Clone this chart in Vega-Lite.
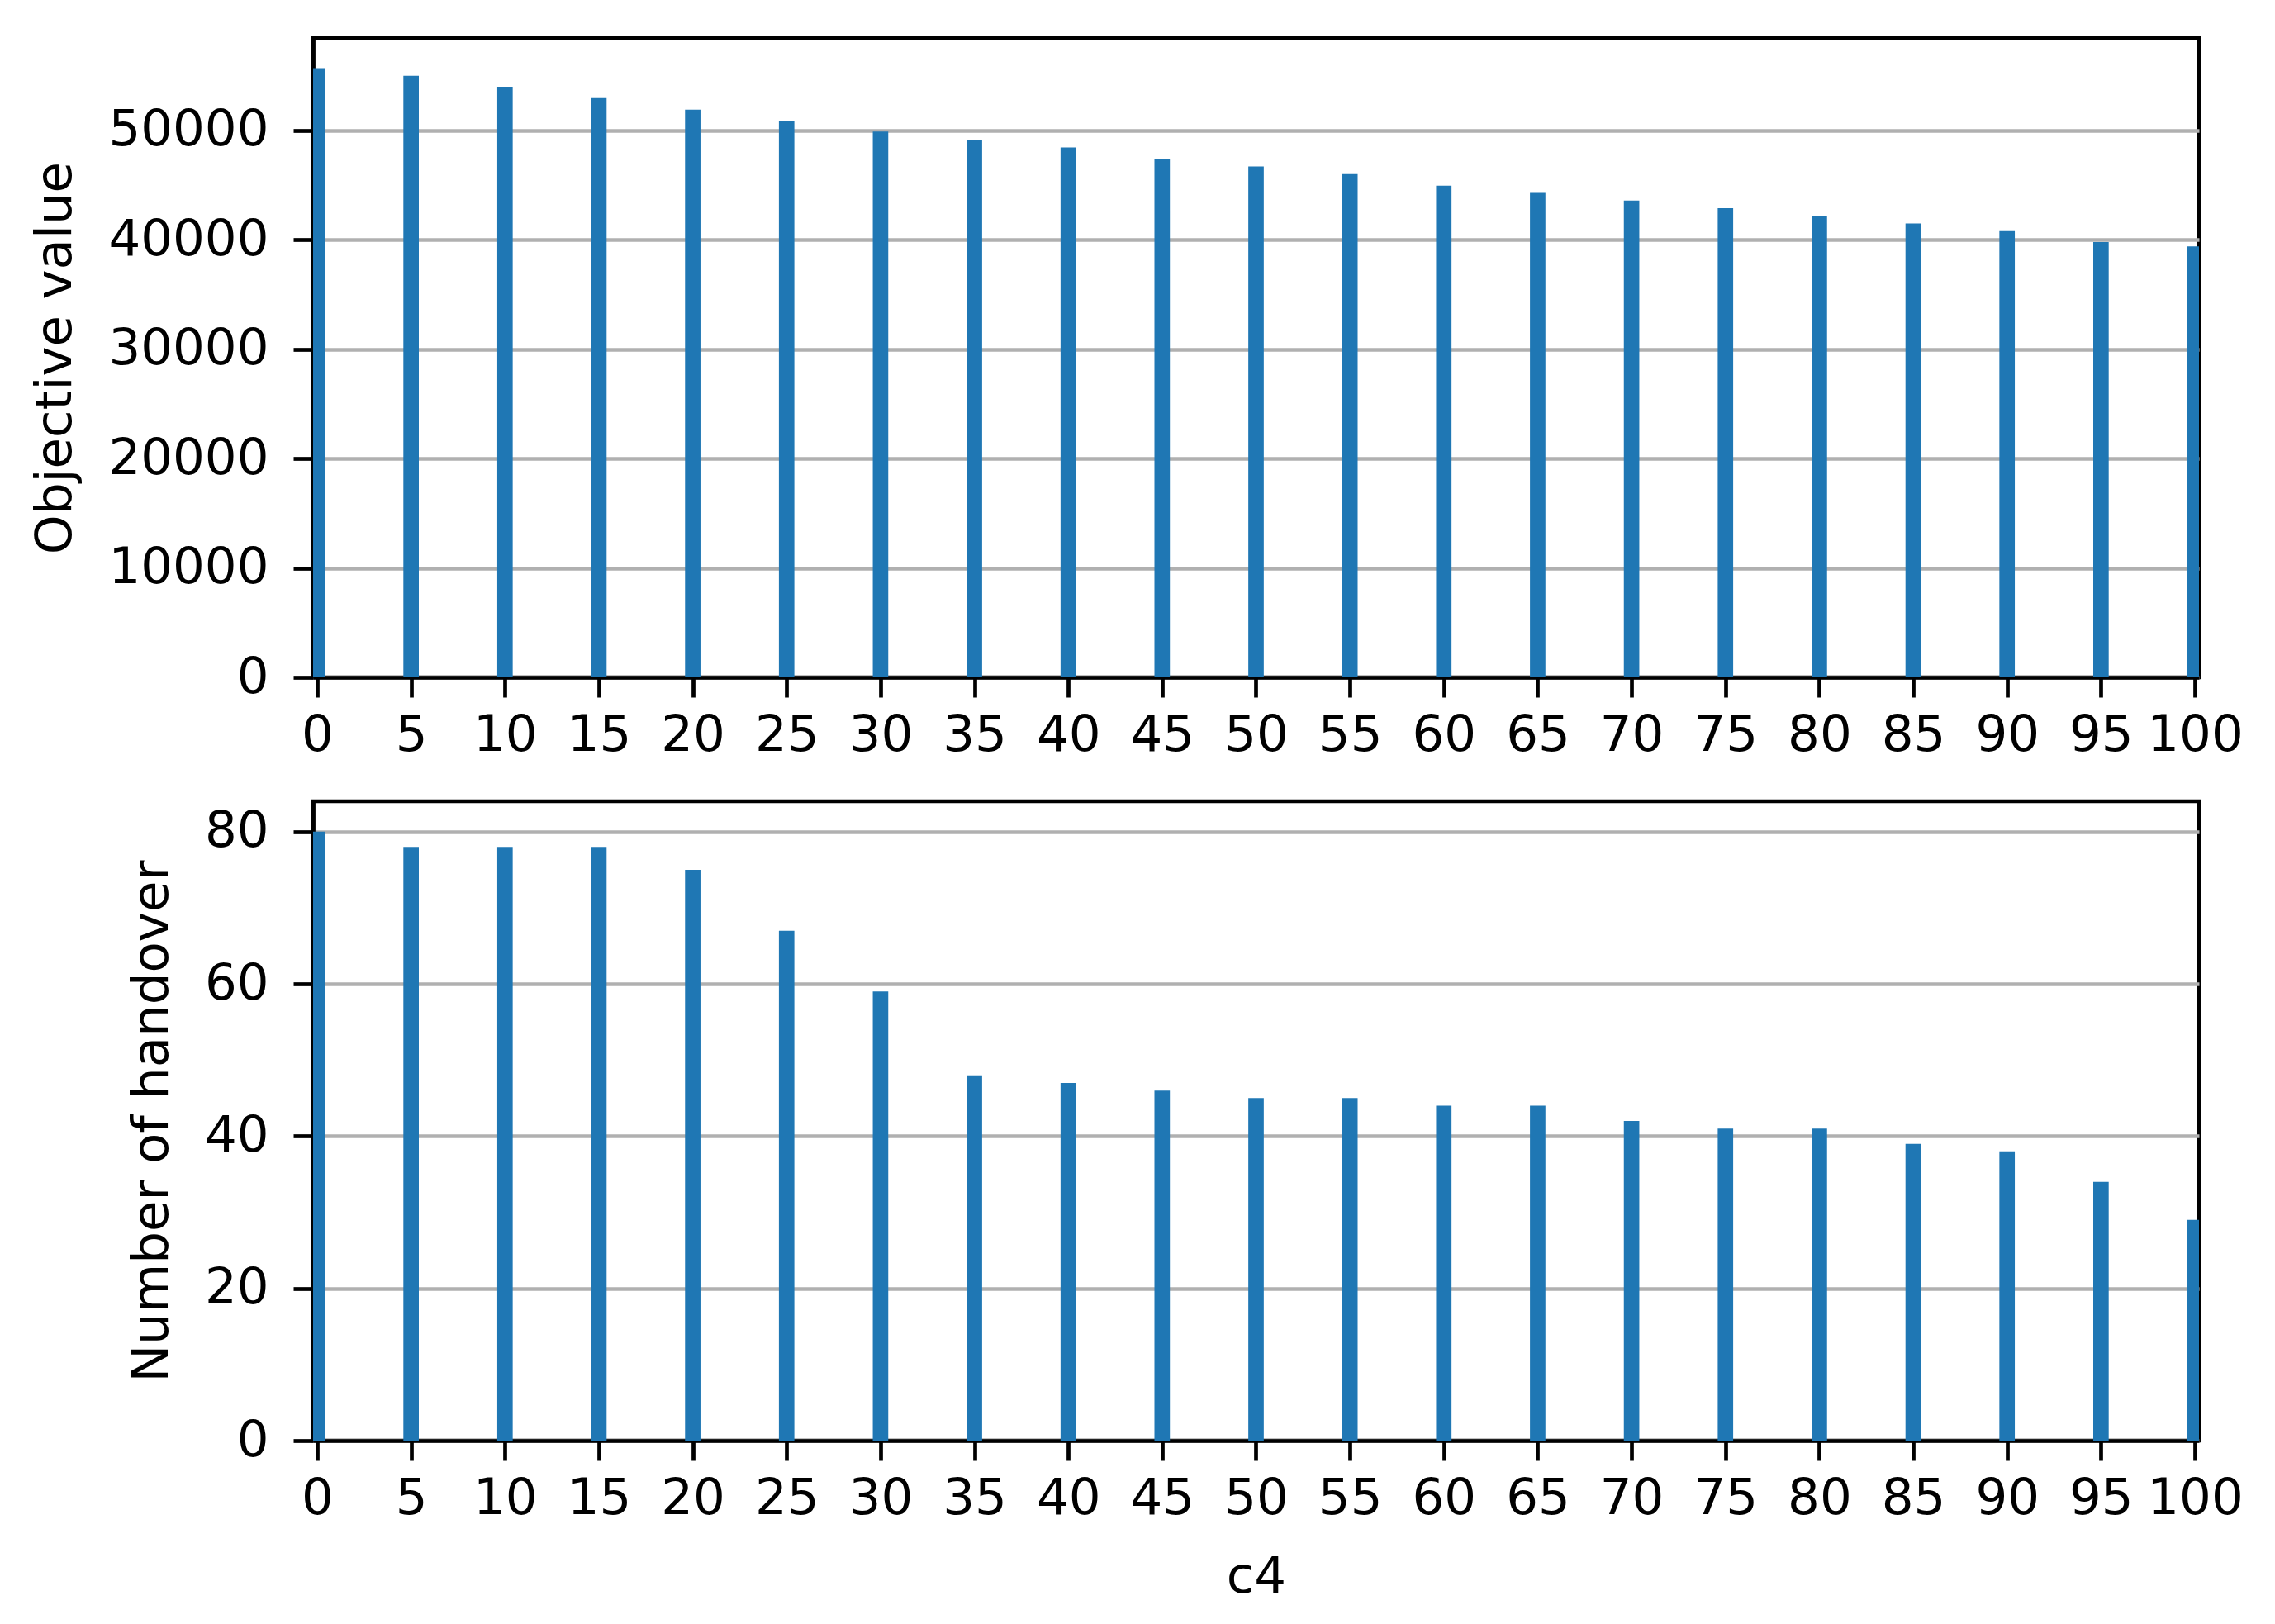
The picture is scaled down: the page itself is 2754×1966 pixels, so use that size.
{
  "$schema": "https://vega.github.io/schema/vega-lite/v6.json",
  "padding": {"left": 33, "top": 43, "right": 40, "bottom": 20},
  "background": "white",
  "data": {"values": [
    {"c4": 0, "objective": 55700, "handover": 80},
    {"c4": 5, "objective": 55000, "handover": 78},
    {"c4": 10, "objective": 54000, "handover": 78},
    {"c4": 15, "objective": 52950, "handover": 78},
    {"c4": 20, "objective": 51900, "handover": 75},
    {"c4": 25, "objective": 50850, "handover": 67},
    {"c4": 30, "objective": 49900, "handover": 59},
    {"c4": 35, "objective": 49150, "handover": 48},
    {"c4": 40, "objective": 48450, "handover": 47},
    {"c4": 45, "objective": 47400, "handover": 46},
    {"c4": 50, "objective": 46700, "handover": 45},
    {"c4": 55, "objective": 46000, "handover": 45},
    {"c4": 60, "objective": 44950, "handover": 44},
    {"c4": 65, "objective": 44300, "handover": 44},
    {"c4": 70, "objective": 43600, "handover": 42},
    {"c4": 75, "objective": 42900, "handover": 41},
    {"c4": 80, "objective": 42200, "handover": 41},
    {"c4": 85, "objective": 41500, "handover": 39},
    {"c4": 90, "objective": 40800, "handover": 38},
    {"c4": 95, "objective": 39800, "handover": 34},
    {"c4": 100, "objective": 39400, "handover": 29}
  ]},
  "spacing": 44,
  "vconcat": [
    {
      "width": 2283,
      "height": 774,
      "mark": {"type": "bar", "width": 18.7, "clip": true, "color": "#1f77b4"},
      "encoding": {
        "x": {"field": "c4", "type": "quantitative",
              "scale": {"domain": [0, 100], "nice": false, "zero": false},
              "axis": {"values": [0,5,10,15,20,25,30,35,40,45,50,55,60,65,70,75,80,85,90,95,100], "format": "d", "grid": false, "title": null, "labelPadding": 16, "labelFlush": false, "labelOverlap": false}},
        "y": {"field": "objective", "type": "quantitative",
              "scale": {"domain": [0, 58450], "nice": false},
              "axis": {"values": [0,10000,20000,30000,40000,50000], "format": "d", "grid": true, "title": "Objective value", "labelPadding": 30, "titlePadding": 81}}
      }
    },
    {
      "width": 2283,
      "height": 774,
      "mark": {"type": "bar", "width": 18.7, "clip": true, "color": "#1f77b4"},
      "encoding": {
        "x": {"field": "c4", "type": "quantitative",
              "scale": {"domain": [0, 100], "nice": false, "zero": false},
              "axis": {"values": [0,5,10,15,20,25,30,35,40,45,50,55,60,65,70,75,80,85,90,95,100], "format": "d", "grid": false, "title": "c4", "labelPadding": 16, "titlePadding": 35, "labelFlush": false, "labelOverlap": false}},
        "y": {"field": "handover", "type": "quantitative",
              "scale": {"domain": [0, 84], "nice": false},
              "axis": {"values": [0,20,40,60,80], "format": "d", "grid": true, "title": "Number of handover", "labelPadding": 30, "titlePadding": 32}}
      }
    }
  ],
  "config": {
    "font": "DejaVu Sans",
    "view": {"stroke": "black", "strokeWidth": 4.7},
    "axis": {
      "labelFont": "DejaVu Sans",
      "titleFont": "DejaVu Sans",
      "labelFontSize": 61,
      "titleFontSize": 61,
      "titleFontWeight": "normal",
      "labelColor": "black",
      "titleColor": "black",
      "labelLimit": 0,
      "tickColor": "black",
      "tickWidth": 4.7,
      "tickSize": 24,
      "domainColor": "black",
      "domainWidth": 4.7,
      "gridColor": "#b0b0b0",
      "gridWidth": 4.7,
      "zindex": 1
    }
  }
}
